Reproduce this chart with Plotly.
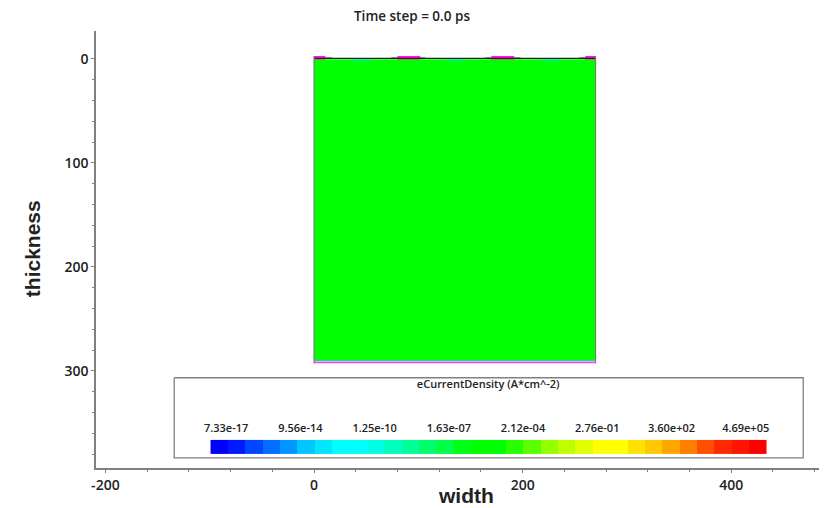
import plotly.graph_objects as go

TITLE = "Time step = 0.0 ps"
X_TITLE = "width"
Y_TITLE = "thickness"
LEGEND_TITLE = "eCurrentDensity (A*cm^-2)"
LEVEL_LABELS = ["7.33e-17", "9.56e-14", "1.25e-10", "1.63e-07", "2.12e-04", "2.76e-01", "3.60e+02", "4.69e+05"]
SWATCHES = ["#0000ff", "#0019ff", "#0046ff", "#006eff", "#0096ff", "#00c8ff", "#00e6ff", "#00ffff",
            "#00ffff", "#00ffe6", "#00ffbe", "#00ff96", "#00ff6e", "#00ff46", "#00ff14", "#00ff00",
            "#00ff00", "#28ff00", "#5aff00", "#96ff00", "#beff00", "#e1ff00", "#ffff00", "#ffff00",
            "#ffe100", "#ffc800", "#ffa500", "#ff7d00", "#ff5000", "#ff2800", "#ff1400", "#ff0000"]
X_TICKS = [-200, 0, 200, 400]
Y_TICKS = [0, 100, 200, 300]
X_MINOR = [-160, -120, -80, -40, 40, 80, 120, 160, 240, 280, 320, 360, 440, 480]
Y_MINOR = [20, 40, 60, 80, 120, 140, 160, 180, 220, 240, 260, 280, 320, 340, 360, 380]
# device regions: x0, x1, y0, y1, colour
REGIONS = [
    (0, 270, 0.2, 289.5, "#00ff00"),
    (0, 270, 289.5, 290.4, "#00e0c0"),
    (0, 270, 290.4, 291.0, "#2050a0"),
    (0, 270, 291.0, 292.5, "#ff40e0"),
    (37, 54, 0.3, 1.6, "#00e8d0"), (127, 144, 0.3, 1.6, "#00e8d0"), (219, 235, 0.3, 1.6, "#00e8d0"),
    (0, 11, -2.8, -1.0, "#ff00ff"), (80, 102, -2.8, -1.0, "#ff00ff"),
    (170, 192, -2.8, -1.0, "#ff00ff"), (260, 270, -2.8, -1.0, "#ff00ff"),
    (11, 17, -1.6, -0.2, "#707070"), (74, 80, -1.6, -0.2, "#707070"), (102, 107, -1.6, -0.2, "#707070"),
    (164, 170, -1.6, -0.2, "#707070"), (192, 198, -1.6, -0.2, "#707070"), (254, 260, -1.6, -0.2, "#707070"),
    (0, 11, 0.0, 1.2, "#a09040"), (80, 102, 0.0, 1.2, "#a09040"),
    (170, 192, 0.0, 1.2, "#a09040"), (260, 270, 0.0, 1.2, "#a09040"),
]
SURFACE_X = [0, 270]
SURFACE_Y = [-0.5, -0.5]
OUTLINE_X = [0, 0, None, 270, 270]
OUTLINE_Y = [-2.8, 292.8, None, -2.8, 292.8]

FONT = "Open Sans"
BOLD_FONT = "Liberation Sans"
INK = "#222222"
XMIN, XMAX = -209, 491.8
YTOP, YBOT = -26.9, 393.3

fig = go.Figure()

# legend panel (drawn without fill so the colour key, which sits below scatter traces, stays visible)
fig.add_trace(go.Scatter(x=[-134, 469, 469, -134, -134], y=[306.5, 306.5, 383.6, 383.6, 306.5],
                         mode="lines", line=dict(color="#808080", width=1.3), hoverinfo="skip"))

for x0, x1, y0, y1, col in REGIONS:
    fig.add_trace(go.Scatter(x=[x0, x1, x1, x0, x0], y=[y0, y0, y1, y1, y0], mode="lines",
                             line=dict(width=0), fill="toself", fillcolor=col, hoverinfo="skip"))
fig.add_trace(go.Scatter(x=SURFACE_X, y=SURFACE_Y, mode="lines", line=dict(color="#202020", width=1.2)))
fig.add_trace(go.Scatter(x=OUTLINE_X, y=OUTLINE_Y, mode="lines", line=dict(color="#707070", width=1)))

# stepped colour key
n = len(SWATCHES)
scale = []
for i, c in enumerate(SWATCHES):
    scale += [[i / n, c], [(i + 1) / n, c]]
bar_left, bar_right = -99.2, 434
dx = (bar_right - bar_left) / n
fig.add_trace(go.Heatmap(z=[list(range(n))], x=[bar_left + dx * i for i in range(n + 1)], y=[366.3, 379.8],
                         zmin=-0.5, zmax=n - 0.5, colorscale=scale, showscale=False, hoverinfo="skip"))

# level labels
label_x = [bar_left + dx * (0.9 + 4.27 * i) for i in range(len(LEVEL_LABELS))]
fig.add_trace(go.Scatter(x=label_x, y=[355.7] * len(LEVEL_LABELS), mode="text", text=LEVEL_LABELS,
                         textfont=dict(family=FONT, size=11, weight=600, color=INK), hoverinfo="skip"))
fig.add_trace(go.Scatter(x=[167], y=[313.5], mode="text", text=[LEGEND_TITLE],
                         textfont=dict(family=FONT, size=11, weight=600, color=INK), hoverinfo="skip"))

axis_common = dict(showgrid=False, zeroline=False, showline=True, linecolor="#808080", linewidth=1.5,
                   ticks="outside", ticklen=3, tickcolor="#808080", tickwidth=1,
                   tickfont=dict(family=FONT, size=14, weight=600, color=INK))
fig.update_layout(
    width=819, height=500, autosize=False, showlegend=False,
    margin=dict(l=88, r=0, t=23, b=40),
    paper_bgcolor="white", plot_bgcolor="white",
    title=dict(text=TITLE, x=404 / 819, xanchor="center", y=1 - 8 / 500, yanchor="middle",
               font=dict(family=FONT, size=13.5, weight=600, color=INK)),
    xaxis=dict(range=[XMIN, XMAX], tickvals=X_TICKS, ticktext=[str(v) for v in X_TICKS],
               minor=dict(tickvals=X_MINOR, ticks="outside", ticklen=2, tickcolor="#808080"),
               **axis_common),
    yaxis=dict(range=[YBOT, YTOP], tickvals=Y_TICKS, ticktext=[str(v) for v in Y_TICKS],
               minor=dict(tickvals=Y_MINOR, ticks="outside", ticklen=2, tickcolor="#808080"),
               **axis_common),
    annotations=[
        dict(text=f"<b>{X_TITLE}</b>", xref="paper", yref="paper", x=0.506, y=-0.063,
             xanchor="center", yanchor="middle", showarrow=False,
             font=dict(family=BOLD_FONT, size=21, color=INK)),
        dict(text=f"<b>{Y_TITLE}</b>", xref="paper", yref="paper", x=-0.0876, y=0.503,
             xanchor="center", yanchor="middle", showarrow=False, textangle=-90,
             font=dict(family=BOLD_FONT, size=21, color=INK)),
    ],
)
fig.write_html("out.html")
